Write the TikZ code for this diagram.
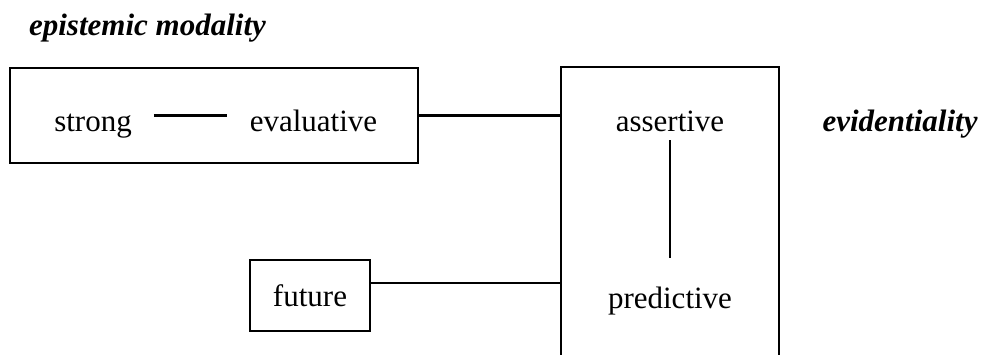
\documentclass[tikz,border=0pt]{standalone}
\usepackage{fontspec}
\setmainfont{Liberation Serif}
\begin{document}
\begin{tikzpicture}[x=1pt,y=-1pt, line width=2.2pt,
  lbl/.style={font=\fontsize{31}{36}\selectfont, inner sep=0pt},
  ttl/.style={font=\fontsize{31}{36}\selectfont\bfseries\itshape, inner sep=0pt},
  boxed/.style={draw, rectangle, inner sep=0pt}]
\useasboundingbox (0,0) rectangle (982,354);
\node[ttl, anchor=base west] (epi) at (28,35) {epistemic modality};
\node[boxed, minimum width=408pt, minimum height=95pt] (modbox) at (214,115.5) {};
\node[lbl, anchor=base, inner xsep=21pt] (strong) at (93,131) {strong};
\node[lbl, anchor=base, inner xsep=22pt] (evaluative) at (313.5,131) {evaluative};
\draw (strong.east |- modbox.east) -- (evaluative.west |- modbox.east);
\node[inner sep=0pt, minimum width=216pt, minimum height=286pt] (evibox) at (670,211) {};
\draw (evibox.south west) -- (evibox.north west) -- (evibox.north east) -- (evibox.south east);
\draw (modbox.east) -- (modbox.east -| evibox.west);
\node[lbl, anchor=base, inner ysep=8pt] (assertive) at (670,131) {assertive};
\node[lbl, anchor=base, inner ysep=27pt] (predictive) at (670,308) {predictive};
\draw (assertive.south) -- (predictive.north);
\node[boxed, lbl, minimum width=120pt, minimum height=71pt] (future) at (310,295.5) {future};
\coordinate (fj) at ([yshift=12.5pt]future.east);
\draw (fj) -- (fj -| evibox.west);
\node[ttl, anchor=base] (evid) at (900,131) {evidentiality};
\end{tikzpicture}
\end{document}
